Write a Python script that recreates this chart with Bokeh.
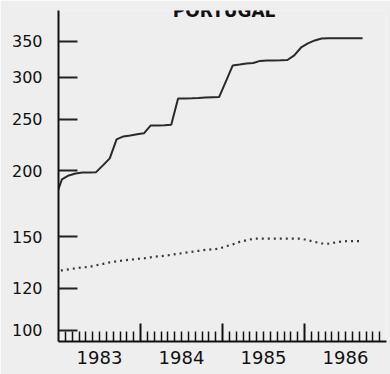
import math
from bokeh.plotting import figure
from bokeh.models import FixedTicker, Label, Range1d
from bokeh.embed import file_html
from bokeh.resources import INLINE

# ---- data (monthly, Dec 1982 .. Sep 1986, plotted mid-month) ----
first_year = 1982
first_month = 12          # December 1982
upper_series = [177, 192.5, 195.8, 197.5, 198.4, 198.4, 198.6, 204.5, 210.8, 228.9, 231.9, 232.9, 234,
                235, 243.2, 243.2, 243.5, 244, 273.4, 273.4, 273.5, 274, 274.6, 274.8, 275,
                294.5, 315.5, 316.8, 318.2, 318.9, 321.7, 322.4, 322.4, 322.6, 323, 329.5, 341,
                347, 351.6, 354.5, 355, 355, 355, 355, 355, 355]
lower_series = [128.8, 129.7, 130.3, 130.9, 131.4, 131.7, 132.6, 133.4, 134.3, 134.9, 135.5, 135.9, 136.3,
                136.7, 137.3, 137.8, 138.2, 138.8, 139.4, 140.0, 140.6, 141.2, 141.8, 142.1, 142.5,
                144.0, 145.2, 146.8, 147.8, 148.8, 148.9, 148.9, 148.9, 148.9, 148.9, 148.9, 148.9,
                147.8, 146.8, 145.8, 145.6, 146.4, 147.1, 147.3, 147.3, 147.3]
year_labels = ["1983", "1984", "1985", "1986"]
y_ticks = [100, 120, 150, 200, 250, 300, 350]
y_tick_labels = ["100", "120", "150", "200", "250", "300", "350"]
title_text = "PORTUGAL"

# decimal-year positions (mid-month)
months = []
y, m = first_year, first_month
for _ in upper_series:
    months.append(y + (m - 0.5) / 12.0)
    m += 1
    if m > 12:
        m = 1
        y += 1

years = [int(s) for s in year_labels]
year_bounds = years[1:]
month_ticks = [yr + k / 12.0 for yr in years for k in range(1, 12)]
mid_years = [yr + 0.5 for yr in years]

y_lo, y_hi = 95.3, 400.3
p = figure(width=390, height=374, output_backend="svg", toolbar_location=None,
           y_axis_type="log",
           x_range=Range1d(years[0], years[-1] + 1),
           y_range=Range1d(y_lo, y_hi),
           min_border_left=58, min_border_right=4, min_border_top=10, min_border_bottom=33,
           background_fill_color="#eeeeee", border_fill_color="#eeeeee",
           outline_line_color=None)
p.grid.visible = False

# lines
p.line(months, upper_series, line_color="#2a2a2a", line_width=2)
p.line(months, lower_series, line_color="#3a3a3a", line_width=2.2, line_dash="2 4")

# tall year-boundary ticks (half of each vertical dash is clipped by the frame)
p.scatter(x=year_bounds, y=[y_lo] * len(year_bounds), marker="dash", size=36,
          angle=math.pi / 2, line_color="#111111", line_width=2)

# x axis: month ticks, year labels centred in each year
xa = p.xaxis[0]
xa.ticker = FixedTicker(ticks=mid_years, minor_ticks=month_ticks)
xa.major_label_overrides = {t: lab for t, lab in zip(mid_years, year_labels)}
xa.major_tick_in = 0
xa.major_tick_out = 0
xa.major_tick_line_color = None
xa.minor_tick_in = 10
xa.minor_tick_out = 0
xa.minor_tick_line_width = 1.5
xa.minor_tick_line_color = "#111111"
xa.axis_line_width = 2
xa.axis_line_color = "#111111"
xa.major_label_standoff = 9
xa.major_label_text_font = "DejaVu Sans"
xa.major_label_text_font_size = "18px"
xa.major_label_text_color = "#111111"

# y axis
ya = p.yaxis[0]
ya.ticker = FixedTicker(ticks=y_ticks, minor_ticks=[])
ya.major_label_overrides = {t: lab for t, lab in zip(y_ticks, y_tick_labels)}
ya.major_tick_in = 19
ya.major_tick_out = 0
ya.minor_tick_in = 0
ya.minor_tick_out = 0
ya.major_tick_line_width = 2
ya.major_tick_line_color = "#222222"
ya.axis_line_width = 2
ya.axis_line_color = "#111111"
ya.major_label_standoff = 16
ya.major_label_text_font = "DejaVu Sans"
ya.major_label_text_font_size = "16px"
ya.major_label_text_color = "#111111"

# title (top centre, as high as possible)
p.add_layout(Label(x=1985.02, y=y_hi, text=title_text, text_align="center",
                   text_baseline="top", y_offset=10,
                   text_font="DejaVu Sans", text_font_style="bold",
                   text_font_size="17px", text_color="#111111"))

open("out.html", "w").write(file_html(p, INLINE))
